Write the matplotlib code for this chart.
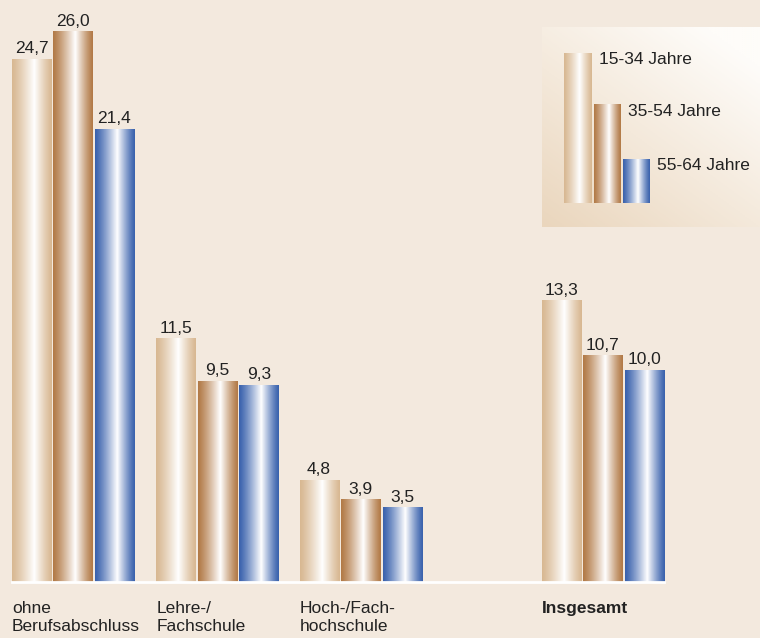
import numpy as np
from matplotlib import pyplot as plt
from matplotlib.colors import to_rgb

plt.rcParams['font.family'] = ['Liberation Sans', 'DejaVu Sans']

# Anteil in %, nach Altersgruppe
categories = ['ohne\nBerufsabschluss', 'Lehre-/\nFachschule', 'Hoch-/Fach-\nhochschule', 'Insgesamt']
series_names = ['15-34 Jahre', '35-54 Jahre', '55-64 Jahre']
v_15_34 = [24.7, 11.5, 4.8, 13.3]
v_35_54 = [26.0, 9.5, 3.9, 10.7]
v_55_64 = [21.4, 9.3, 3.5, 10.0]
values = [v_15_34, v_35_54, v_55_64]

bg = '#f3e9de'
edge_colors = ['#d8b892', '#b27a47', '#3a62ad']
group_x = [0, 3.48, 6.93, 12.77]
width = 0.94
fs = 12.5


def gradient(edge, n=64):
    t = np.linspace(0, 1, n)
    d = np.where(t < 0.56, (0.56 - t) / 0.56, (t - 0.56) / 0.44)
    k = (1 - d) ** 1.2
    e = np.array(to_rgb(edge))
    return (e[None, :] + (1 - e[None, :]) * k[:, None])[None, :, :]


fig = plt.figure(figsize=(7.6, 6.38), dpi=100)
fig.patch.set_facecolor(bg)
ax = fig.add_axes([0, 0, 1, 1])
ax.set_facecolor(bg)
ax.axis('off')

px = 41.5  # pixels per bar step
ppu = 550 / 26.0
xlim = (-73 / px, (760 - 73) / px)
ylim = (-56 / ppu, 26 + 32 / ppu)

for i, vals in enumerate(values):
    for g, v in zip(group_x, vals):
        x = g + (i - 1)
        ax.imshow(gradient(edge_colors[i]), extent=(x - width / 2, x + width / 2, 0, v),
                  aspect='auto', interpolation='bilinear', zorder=2)
        ax.text(x, v + 6 / ppu, f'{v:.1f}'.replace('.', ','), ha='center', va='baseline',
                fontsize=fs, color='#222222')

ax.plot([group_x[0] - 1 - width / 2, group_x[-1] + 1 + width / 2], [0, 0], color='white', lw=2, zorder=3)

for g, cat in zip(group_x, categories):
    ax.text(g - 1 - width / 2, -19 / ppu, cat, ha='left', va='top', fontsize=fs, color='#222222',
            linespacing=1.25, fontweight='bold' if cat == 'Insgesamt' else 'normal')

ax.set_xlim(*xlim)
ax.set_ylim(*ylim)

# Legende
lax = fig.add_axes([542 / 760, (638 - 227) / 638, 218 / 760, 200 / 638])
lax.axis('off')
yy, xx = np.mgrid[0:1:100j, 0:1:100j]
s = np.clip((xx * 0.8 + yy) / 1.6, 0, 1)
c0 = np.array(to_rgb('#ead6bd'))
c1 = np.array(to_rgb('#fefcf9'))
lax.imshow(c0 + (c1 - c0) * s[:, :, None], extent=(0, 218, 0, 200), aspect='auto', origin='lower')
leg_bars = [(22, 50, 174), (52, 79, 123), (81, 108, 68)]
for i, (x0, x1, top) in enumerate(leg_bars):
    lax.imshow(gradient(edge_colors[i]), extent=(x0, x1, 24, top), aspect='auto', interpolation='bilinear')
    lax.text(x1 + 7, top - 7, series_names[i], ha='left', va='center', fontsize=fs, color='#222222')
lax.set_xlim(0, 218)
lax.set_ylim(0, 200)

plt.savefig('out.png', dpi=100, facecolor=bg)
